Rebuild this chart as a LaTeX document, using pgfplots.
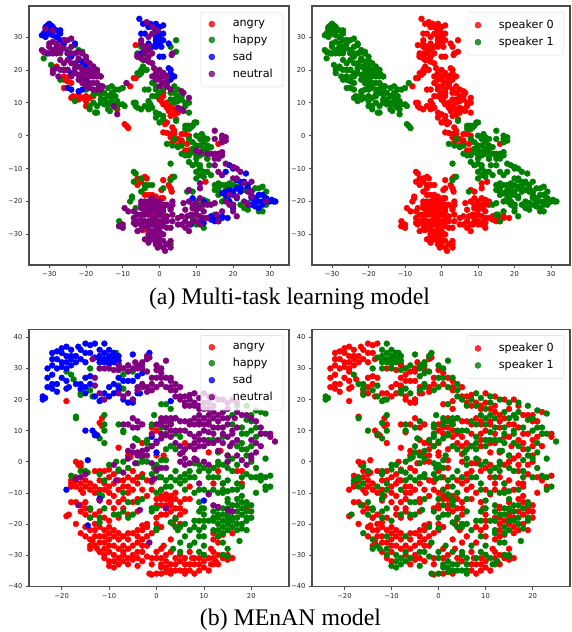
\documentclass[border=0pt]{standalone}
\usepackage{pgfplots}
\usepackage{pgfplotstable}
\usepackage{fontspec}
\pgfplotsset{compat=1.18}
\setmainfont{DejaVu Sans}
\newfontfamily\capfont{Liberation Serif}
\definecolor{darkgreen}{RGB}{0,128,0}
\definecolor{darkpurple}{RGB}{128,0,128}

% (a) multi-task model, one table for each emotion and speaker
\pgfplotstableread{
x y
-6.5 17.5
-7 17.5
-8 15
-6.5 27.5
1 13
0.5 10.5
1 9.5
2 8.5
2.5 7.5
0 11
0 12
4 6.5
4.5 5
2 4
1.5 3.5
3.5 2.5
4 1.5
1 1
2 0.8
3 0.5
4 0.5
3 -0.5
4 -1
5 -1
6 0.5
7 0.5
8 0
3.5 -2
4 -1.5
5 -3
6 -2
7 -4.5
8 -4.5
7.5 -2.5
6 -1.5
16 -2.5
13 -7
12.5 -14
1 -13.5
3.5 -12.5
3 -13
2.5 -15
3 -16
3.3 -17
0.5 -16.5
0.5 -19
-6 -13
-5 -14
-4 -12.5
-3.5 -13
-6 -15
-4 -18
-3 -18
-2 -18
-1 -18.5
1 -19
-2 -24
-4.5 -28.7
1 12
2 10
3 9
4 8
3 6
5 7
}\aAZ
\pgfplotstableread{
x y
-28 21
-26 18
-25 16.5
-26 17
-24 16
-24.5 18
-23.5 12
-24 11.5
-23 11
-22 12.5
-22 11
-21 11.5
-20 10.5
-20 12
-19.5 9
-20 9
-19 11.5
-18 12
-26 14.5
-9.5 3.5
-9 3
-8.5 2.3
-11.5 8
-31.5 25.5
-28 27
}\aAO
\pgfplotstableread{
x y
-5 20
-4.5 21
-5 19
-4 20
-3.5 20
-6 19
-5.5 18.5
4.5 29
4.5 25.5
-4 25
-5 27
-5 24.5
-6 25
-6 24
-4.5 23
3 27
1 14
-1 14
-3 14
-4 14
-2 12
-1 12
-3 10.5
-2.5 9.5
-4 9
-6.5 10
-6.5 9
-6 8.5
-5 8
-3 8
-2 8.5
-1 7
0 6.5
1 6
-1 5.5
0 4
1 5
4 11
3 11
4 10
5 12
4 13
3 13
5 14
2 15
1 16
2 17
3 18
-7 10
-7 -11
-6.5 -11.5
-7 -14
-5 -13
-4 -15
-4 -16
-3 -15
-2 -15
-5 -17
-7.5 -19
-8 -20
-7.5 -18.5
-6.5 -22
-11 -26
-11 -27.5
1 -16
9 -17
10 -20
11 -21
10 -22
13 -20
12 -19.5
9 -25
10 -27
12 -28
9 -22
3 -33
-2 16
-1 15
0 13
4 15
6 11
7 10
5 10.5
7 9
8 7
8 10
6 12
}\aHZ
\pgfplotstableread{
x y
-31.5 23.5
-29.5 21.5
-27 25
-27 17
-28 30
-25 26
-23 27.5
-22 26
-21 25.5
-20 22
-21 21
-17 19
-16 18
-16.5 15
-15 13
-14 14.5
-13 15
-12 14
-11 14
-10 14.5
-17 13
-18 12.5
-16 11
-16 10
-15 9.5
-14 10
-13 10.5
-13 11.5
-14 12
-12 12
-11.5 10.5
-11 9.5
-14 8
-10 9.5
-9.5 9
-17.5 7
-17 7
-13.5 7.5
-12 8.5
-19 9
-23 10.5
-18 10
-19 8
-15 11
-12 10
-13 13
-16 12.5
-20 14
-17 9
-14 9.5
7.5 3
7 3
8 2
8.5 2.5
9 3
7 2
8 3
9.5 4
10 4
4.5 4.5
10 0
11.5 0.5
12 -0.5
13 -1
12 -2
11 -3
12 -4
13 -4
14 -3.5
10 -3
9 -2
8 -1
2 -2.5
3.5 -3
5 -3.5
6 -5.5
7 -6
9 -5
10 -6
11 -6
12 -5.5
8 -8
10 -8.5
9 -9
11 -9
10 -11
11 -10
12 -11
13 -11
11 -12
12 -12.5
14 -12
10 -13
13.5 -9
15 -15
16 -14.5
17 -15
18 -15
16 -16
18 -16.5
15 -16.5
19 -14.5
20 -15
22 -15
26 -16
27 -16
28 -15.5
29 -17
28 -23
23 -22
24 -22.5
20 -21
16 -18
18 -19
3 -8.5
3 -13.5
4 -12.5
7.5 -17
15 -24
4 -1
6 -3
9 -4
11 -1
10 -7
13 -7
13 -3
8 -6
16 -17
19 -16
21 -15.5
23 -16.5
25 -17
17 -20
22 -21
24 -20.5
27 -23
29 -21
}\aHO
\pgfplotstableread{
x y
-5.5 35.5
-4.5 34
-3.5 34
-2.5 34
-1.5 33
-1 34
0 33
1 33.5
-3 33
-4 31
-5 31
-1 32
0 31
1 31
-1 30
0 30
-1 29
0 29
1 29
-1 28
0 28
0.5 27
2.5 28
-2 27
-1 27
-3 28
-4 27
-5 25
0 24
1 24
1 19
2.5 20.5
3 20
3 19
2 18
4 18
3 17
14 -24.5
14 -25.5
15 -25
15 -26
16 -25
16 -26
17 -25
17 -24.5
18.5 -25
8.5 -27
11.5 -26
12 -26.5
9 -19
12 -20
}\aSZ
\pgfplotstableread{
x y
-30 34
-30.5 33.5
-29.5 33.5
-31 33
-29 33
-31 32
-30 32
-30 31
-31.5 31
-32 30.5
-31 30
-29 30.5
-28 32
-27 32
-27 31
-28 30
-27 29
-26 29
-26 28
-23 28
-30.5 25
-25 25
-24 24
-22 23
-21 22.5
-20 21
-26 20
-25 20
-24 19
-23 19
-25 14.5
-24 14
-22 13.5
-21 14
-21 17
-20 17
19 -9
18 -11
20 -10
23.5 -11.5
21 -13.5
22 -14
23 -14
24 -15
24 -16
22 -16
21 -16
20 -17
19 -16.5
18 -17
17 -17.5
18 -18
18.5 -19
19 -20
20 -18
21 -19
22 -17
25 -18
25 -19
26 -19
27 -18
28 -18
29 -19
26 -20
27 -20
28 -20
29 -20
30 -20
31 -20
31.5 -20
30.5 -19.5
25 -21
26 -21.5
27 -22
28 -21
20 -22
}\aSO
\pgfplotstableread{
x y
-3.5 34.5
-2 33
-0.5 32
-2 31
-3 30
-5 29
-5 28
-4 27
-3 27
-4 26
-4 25
-3 24
-3 26
-2 25
-6 24.5
-6 24
-5 23.5
-4 23
-3 22.5
-2 22
3.5 25
3.3 24.5
-1.5 20.5
-1 19
0 20
1 19
-2 18
-1 18
0 18
1 18
2 18
-1 17
0 17
1 16
2 16
2 15
3 14
0 15
6 13.5
6.5 13
8 11.5
5 8.5
5.5 8
6 8
6.5 7.5
-4 -20
-3 -20
-2 -20
-1 -20
0 -20
-5 -21
-4 -21
-3 -21
-2 -21
-1 -21
0 -21
1 -21
-5 -22
-4 -22
-3 -22
-2 -22
-1 -22
0 -22
1 -22
-4 -23
-3 -23
-2 -23
-1 -23
0 -23
1 -23
-5 -24
-4 -24
-3 -24
-1 -24.5
0 -24
1 -24.5
2 -24.5
-6 -24
-7 -25
-6 -26
-5 -25.5
-4 -26
-3 -26
-2 -25.5
-1 -26
0 -26
1 -26
-7 -26.5
-6.5 -27
-5 -27
-4 -27.5
-3 -27.5
-2 -27
-1 -27.5
0 -27.5
1 -27.5
-6 -29
-5 -28.5
-3 -29
-2 -29
-1 -29
0 -29
-3 -30
-2 -30
-1 -30.5
0 -30.5
1 -30
-4 -31.5
-3 -31
-2 -31.5
-1 -32
0 -32
1 -32
-3 -32.5
-1 -33
0 -33.5
1 -34
2 -33
3 -32
3 -34
1.5 -35
-0.5 -34
-9.5 -22
-8.5 -23
-10 -27
-10 -28
-11 -27.5
3.5 -26
3.5 -21
3.5 -20
3 -22
3 -22.5
3.5 -24
6.5 -20.5
7 -22.5
6 -24.5
7 -26
7.5 -24.5
8 -27
7 -28
8 -29
8.5 -24
9 -22
10 -22.5
11 -22
10 -24
11 -24.5
12 -23
13 -21
9 -26
11 -27
12 -25
8 -16.5
11 -14.5
11 -16
-5 -20
2 -21
-7 -23
2 -26
2 -28
-2 -19
3 -28
5 -27
5 -25
8 -20
9 -21
10 -20.5
12 -21
11 -19
6 -27
9 -24
13 -25
10 -26
}\aNZ
\pgfplotstableread{
x y
-31 32.5
-29 32
-30 28
-30 27
-29 26
-28 28
-27 27
-27 25.5
-26 29
-25 29
-24 29.5
-24 27
-29 25
-28 25
-32 26
-31.5 25.5
-30 25
-25 25
-24 25
-23 25
-22 25.5
-21 25
-20 24
-20 23
-19 22
-18 21
-26 22
-24 22
-23 22
-22 21
-21 20
-20 20
-19 20
-18 20
-17 19
-19 19
-20 19
-21 18
-20 18
-19 18
-18 18
-17 18
-16 18
-23 19
-24 18
-25 20
-26 20
-27 20
-28 20.5
-29 20
-29 19
-27.5 18
-22 17
-21 16
-20 16
-19 16
-18 16
-17 16
-20 15
-19 14.5
-18 14
-16 15
-15.5 15
-16 14
-17 14
-12.5 9
-11.5 6.5
-9 16
-27 23
-25 23
-22 23.5
-23 20.5
-26 26.5
-28 26.5
-29 28.5
-18 19
-17 20
-21 19
-22 18.5
15 1.5
17 0
18 -0.5
17 -1
18 -1.5
17 -2
15 -1
10 -4.5
11 -5
13 -5.5
14 -5.5
15 -5.5
16 -5.5
17 -5
15 -6
16 -6
17 -6
15 -7
16 -7
15 -9
18 -8.5
20 -9.5
21 -10
22 -11
16 -11
17 -12
20 -13
21 -13
23 -14.5
25 -14
24 -17
25 -17
19 -18
21 -18.5
18 -20
19 -21
20 -21
23 -20
24 -21
25 -18.5
29 -20
14 -21
15 -20.5
17 -23
20 -23
21 -24.5
15.5 -24
16 -26
}\aNO

% (b) MEnAN model
\pgfplotstableread{
x y
-16 23
-19 19.5
-11.5 14
-11.5 11.5
-3 6
6 6
11 3
3 12
0 10
-8 4.5
-6 2
0 2
-17 0
-16 -0.5
-16.5 -1
-17.5 -5
-18 -7
-18 -8
-17 -6
-15 -6
-15 -8
-14 -7
-13 -3
-11 -3
-9 -4
-10 -5
-12 -6
-10 -8
-12 -9
-9 -7
-8 -6
-6 -8
-5 -9
-4 -7
-3 -9
-5 -3
-2 -6
-1 -6.5
-17 -13
-18 -13
-16 -14
-15 -15
-14 -18
-19 -17.5
-13 -17
-10 -13
-9 -11
-8 -13
-7 -15
-11 -18
-8 -18
-9 -15
-4 -12
-4 -16
-17 -20
-15 -21
-14 -22
-15 -24
-13 -24
-12 -24
-12 -26
-14 -27
-12 -29
-11 -26
-10 -25
-10 -23
-9 -22
-9 -24
-8 -23
-8 -25
-10 -27
-9 -27
-8 -28
-10 -29
-11 -31
-10 -32
-7 -30
-6 -33
-5 -31.5
-4 -31
-5 -30
-6 -28
-5 -27
-4 -26
-3 -25
-4 -24
-5 -23
-4 -22
-3 -20.5
-3 -22
-2 -20
-2 -24
-2 -27
-3 -32
-1 -31
1 -31
1 -28
3 -25
0 -20
1 -21
5 -32
7 -29
7.5 -31
8 -33
9 -33
9 -35
10 -34
10 -32
12 -29
12 -31
13 -33
14 -31
15 -31.5
16 -31
7 -35
-1 -36.3
1 -36
3 -36
8 -36
1 -11
3 -11
2 -12
4 -12
5 -13
2 -15
4 -15
3 -16
5 -17
3.5 -20
7 -12
7 -8
12 -7
14 -7
17 -3
18 -7
19 -15
13 -24
12 -25
11.5 -28
14 -23.5
16 -23
-17.5 -7
-16 -9
-15.5 -10
-14 -9
-13 -10
-10 -10
-7 -8
-6 -10
-16 -16
-13 -20
-12 -21
-11 -22
-10 -21
-13 -22
-13.5 -25.5
-7 -27
-6 -25
-6 -23
-3 -27
-1 -23
-1 -33
2 -30
4 -31
7 -33
9 -31
11 -35
13 -30
2 -14
1 -12
5 -15
0 -14
-1 -9
-2 -11
1 -9
-7 -12
}\bAZ
\pgfplotstableread{
x y
-12 12.5
7 5
13.5 3.5
-1 11
-5.5 1.5
1.5 2
-16 -1.5
-18 -6
-17 -8
-16 -7
-12 -3
-10 -2.5
-11 -7
-11 -9
-7 -6
-4 -5
-6 -5
-15 -13
-14 -15.5
-15 -17
-18.5 -17
-12 -16
-10 -19
-6 -17
-5 -13
-16 -23
-14 -25
-13 -27
-14 -28
-11 -28
-7 -24
-9 -30
-11 -30
-9 -32
-8 -31
-8 -33
-9 -34
-10 -33.5
-7 -32
-4 -33.5
-4 -29
-3 -29
-2 -30.5
0 -31
1.5 -27
2 -32
1 -33
1 -34
2 -34
3 -33
3 -35
4 -33
6 -31
8 -31
11 -31
12.5 -32
14 -30
11.5 -33
6 -35
5 -35
-1.5 -36
0 -36
2 -35.5
4 -35
6 -36
5 -30
2 -10.5
4 -10
3 -13
1 -14
3 -14
1 -17
0 -18
4 -18
5 -20
13 -3
18 -3
12 -23
13 -26
-13 -8
-8 -9
-5 -6
-3 -4
-12 -12
-11 -24
-12.5 -28
-7 -29
-6 -31
-2 -21
0 -29
3 -29
6 -33
10 -30
12 -33
15 -30
3 -12
2 -17
6 -16
6 -12
0 -12
}\bAO
\pgfplotstableread{
x y
-19 29
-17.5 26.5
-16 22
-13.5 21
-8 31.5
-7 28
-8 24.5
-5 29
-17 14.5
-11 12
-8 12
-7 9.5
-4 7
-11 6
-2 6.5
1 18.5
3 17
1 11
-2 6
-18 -4.5
-16 -3
-14.5 -3.5
-11 -6
-11.5 -11
-14 -18
-12 -19.5
-9 -17
-7 -16
-6 -18
-4 -13
-7 -10
-8 -2.5
-8.5 0
-6 -2
-3 0
-2 0
0 -3
2 0.5
1 -5
2 -8
0 -10
-1 -15
0 -15
0 -22
4 -18.5
4.5 -22
3.5 -28
5 -26
8 -26
10 -30
5 -7
6 -4
7 -3
9 -3
10 -9
13 -5
14 -9
15 -6
16 -9
18 -8
14 -1
13 3
15 0
16 1
18 6
14 8
8 -10
15 -13
15 -17
13 -15
12 -18
13 -20
13 -22
14 -19
16 -18
18 -17
20 -16
18 -13
20 -14
18 -20
16 -21
17 -22
19 -22
15 -28
14 -30
10 -21
10 -17
9 -22
10 -24
9.5 -15
22 16
20 15
17 18
16 12
20 13
19 9
20 5
18 4
20 0
19 -4
21 -5
22 -6
24 -4.5
23 -8
21 -10
13 -18
15 -18
17 -16
19 -16
17 -12
18 -11
15 -20
13 -24
20 -18
10 -19
9 -13
8 -21
6 -24
12 -9
10 -2
8 -0.5
11 -5
17 -1
17 -7
4 -6
6 -6
6 -9
2 4
4 9
5 8
21 8
18 9
}\bHZ
\pgfplotstableread{
x y
-14 30
-18 28
-14 23
-16 21.5
-9 35
-8.5 35
-9 34
-7 30
-7 23.5
-3 31
-17 14
-11 15
-11 10
-7 10
-4.5 7.5
-12 7.5
-2 7
-0.5 15
2 18.5
-1 12
-1 5
0 -1
-17 -5
-15 -3
-12 -4
-12 -10.5
-14 -15
-12 -18
-11 -15
-8 -17
-6 -13
-5 -17
-3 -12
-8 -3
-10 -1
-7 0
-4 -0.5
-3 1
-0.5 -2
1 0.5
-1 -4
2 -6
1 -9
0.5 -5
-1 -16
0 -21.5
3 -19.5
4 -21
5 -21
5 -29
7 -27
9 -29
10 -27
5 -5
4 -3
8 -5
9 -9
12 -5
14 -7
14 -10
15 -9.5
17 -9
15 -2
13 0
13 -1
15 2
17 5
12 7
11 7
13 -10
15 -15
14 -17
12 -16
12 -19
14 -21
12 -22
15 -19
17 -18
19 -18
19 -14
19 -13
17 -14
17 -20
15 -22
18 -21.5
17.5 -25.5
15 -30.5
14 -26
9 -19
9 -16
9 -24
6 -20
21 16.5
23 15.5
19 18
16 15
19 13.5
21 11
20 10
19 4
19 2
21 -2
20 -5
22 -4.5
23 -5
24 -8
23 -9
13 -17
14 -15
16 -16
18 -15
16 -14
15 -12
16 -19
14 -23
19 -19
11 -19
10 -15
8 -19
7 -22
11 -10
11 -3
9 -1
12 -2
16 -3
18 -5
3 -8
3 -5
7 -5
-3 -5
4 4
2 9
3 5
22 9
18 11
23 1
}\bHO
\pgfplotstableread{
x y
-15 38
-14 37.5
-13 38
-20 36.5
-19 37
-18 36
-16.5 37
-16 36
-15 35
-14 35
-22 35
-21 35.5
-20 35
-19 34
-18 34
-17 34
-23 30
-22 31
-21 30
-20 30.5
-19 30
-18 31
-17 32
-16 33
-15 32
-22 33
-21 33
-20 32
-19 32
-18 33
-23 27
-22 28
-20 27
-19 26
-21 25
-22 25
-23 24
-22 23.5
-21 22.5
-19 23.5
-18.5 24
-15 27
-14 25
-14 27.5
-15 24
-10 24
-9 25
-8 24
-8 27
-7 26
-6 26
-5 26
-9 22
-15 22
-11 22
-10 21
-7 20
-6 19
-5 19
-4 22
-3.5 22
-5 20
-13.5 10
-13 8.5
-12.5 8.5
0 3
-14.5 0.5
-19 -9
-12 -12
-14.5 -20.5
3 19.5
4 14
}\bSZ
\pgfplotstableread{
x y
-11 38
-12 36
-11 35
-10 36
-10 34
-9 35
-12 34
-11 33
-10 33
-9 33
-8 34
-12 33
-13 33.5
-12 32
-11 32
-10 31.5
-9 32
-8 32.5
-5 34.5
-1.5 35
-3.5 31
-3 28.5
-4 27.5
-24 21
-24 20
-23.5 20.5
-17 25
-16 23.5
-16 25
-13 21
-11.5 20
-12 19.5
-8 23
-15 10
-13 9
-1 8
0 6.5
10 -12.5
}\bSO
\pgfplotstableread{
x y
-13.5 33
-11 30
-9 29.5
-8 31
-6 29
-5 30
-4.5 32
-3 30
-2 33
-1.5 33.5
0 29.5
1 28.5
-13 27
-12 22
-7 21
-5 20
-2 24
-4 24
-2 22.5
-1 25
1 25
2 27
3 26
3 24
3 23
5 21
6 19
8 19
7 18
9 17
11 17
10 22
12 21
14 20
16 20
10 19
12 18
7 21.5
-5 14
-6 12
-4 11
-3 12
2 14
1 13
3 13
2 11
3 10
1 9
3 8
4 6
0 6
-2 4
-4 3
-6 3.5
-3 2
-4.5 -0.5
0 -2.5
5 2.5
5 0
7 -0.5
8.5 0.5
11 -1
8 14
7 12
9 13
11 13
13 15
9 12
11 12
13 11
15 12
17 11
10 10
9 9
9 7
11 6
7 5
9 5
12 6
17 7
15.5 5
17 2
15 0
20 7
22 5
20 2
19 -1
22 9
24 9
24 8
21 13
19 15
18 15
2 -2
-16 -5
-15 -4
-12 -12.5
2 -15
11 -10.5
13 -14.5
16 -16
-8.5 -6
-1 -6
-1 27
5 24
6 21
9 18
12 16
15 17
14 14
13 13
12 9
15 8
7 9
6 13
5 13
0 12
5 5
-2 2
}\bNZ
\pgfplotstableread{
x y
-12 30
-10 30
-8 29.5
-7 30
-6 31
-4 30
-4 31
-3 32
-2 29
-2 34
0 31
1 30
2 32.5
-13 24.5
-11 20
-8 22
-6 22
-3 24
-3 25
-4 23
-1 23
0 24
1 27
3 27
4 25
2 24
4 23
5 20
7 20
6 18
8 18
10 17
9 20.5
11 21
13 20
15 19
17 19
11 19
8 22
-4 13
-5 11
-7 12
1 14
3 14
2 13
1 12
3 12
4 10
2 8.5
1 7.5
5 10
-1 5
-3 3.5
-5 3
-4 2
-6 1
-1 -0.5
5.5 3
6 1
6 -1
8 1
10 0
9 15
7 13
8 12
10 14
12 14
14 16
10 12
12 11
14 11
16 10
16 9
11 9.5
8 8
10 7
8 6
8 4
10 5
13 7
16 6
14 6
15 2
13 3.5
21 6
21 3
18 0.5
20 1
23 9
25 6.5
22 11
20 14
17 16
16.5 14
-9 -1
-17 -5.5
-16.5 -14
-3.5 -15.5
9 -7
12 -14
15 -15.5
-1.5 -26
-7 -3.5
1 -2
-0.5 -5.5
0 27
4 21
11 15
15 14
14 9
6 10
4 14
-1 9
6 4
-5 5
}\bNO

\pgfplotsset{
  ang/.style={only marks,mark=*,mark size=2.95pt,color=red},
  hap/.style={only marks,mark=*,mark size=2.95pt,color=darkgreen},
  sad/.style={only marks,mark=*,mark size=2.95pt,color=blue},
  neu/.style={only marks,mark=*,mark size=2.95pt,color=darkpurple},
  panel/.style={
    scale only axis,
    axis line style={black!70,line width=1.1pt},
    tick style={black!70,line width=0.6pt},
    major tick length=3pt,
    tick align=outside,
    xtick pos=bottom,
    ytick pos=left,
    tick label style={font=\fontsize{6.8}{8}\selectfont,text=black!85},
    legend cell align=left,
    legend style={
      at={(0.977,0.977)},anchor=north east,
      font=\fontsize{11.2}{13}\selectfont,
      draw=black!15,rounded corners=1.5pt,
      fill opacity=0.8,text opacity=1,draw opacity=1,
      inner xsep=8pt,inner ysep=6pt,row sep=3pt,
      /tikz/every odd column/.append style={column sep=16pt},
    },
  },
  panelA/.style={
    panel,width=260pt,height=259pt,
    xmin=-35.5,xmax=35.2,ymin=-39.3,ymax=39.4,
    xtick={-30,-20,-10,0,10,20,30},
    xticklabels={−30,−20,−10,0,10,20,30},
    ytick={-30,-20,-10,0,10,20,30},
    yticklabels={−30,−20,−10,0,10,20,30},
  },
  panelB/.style={
    panel,width=260pt,height=257.4pt,
    xmin=-26.9,xmax=27.95,ymin=-40.2,ymax=42.6,
    xtick={-20,-10,0,10,20},
    xticklabels={−20,−10,0,10,20},
    ytick={-40,-30,-20,-10,0,10,20,30,40},
    yticklabels={−40,−30,−20,−10,0,10,20,30,40},
  },
}

\begin{document}
\begin{tikzpicture}[x=1pt,y=1pt]
\path (0,0) rectangle (571,632);

\begin{axis}[panelA,at={(29pt,367pt)}]
\addplot[ang] table {\aAZ};
\addlegendentry{angry}
\addplot[ang,forget plot] table {\aAO};
\addplot[hap] table {\aHZ};
\addlegendentry{happy}
\addplot[hap,forget plot] table {\aHO};
\addplot[sad] table {\aSZ};
\addlegendentry{sad}
\addplot[sad,forget plot] table {\aSO};
\addplot[neu] table {\aNZ};
\addlegendentry{neutral}
\addplot[neu,forget plot] table {\aNO};
\end{axis}

\begin{axis}[panelA,at={(312pt,367pt)},width=258pt]
\addplot[ang] table {\aAZ};
\addlegendentry{speaker 0}
\addplot[ang,forget plot] table {\aHZ};
\addplot[ang,forget plot] table {\aSZ};
\addplot[ang,forget plot] table {\aNZ};
\addplot[hap] table {\aAO};
\addlegendentry{speaker 1}
\addplot[hap,forget plot] table {\aHO};
\addplot[hap,forget plot] table {\aSO};
\addplot[hap,forget plot] table {\aNO};
\end{axis}

\begin{axis}[panelB,at={(29pt,45.3pt)}]
\addplot[ang] table {\bAZ};
\addlegendentry{angry}
\addplot[ang,forget plot] table {\bAO};
\addplot[hap] table {\bHZ};
\addlegendentry{happy}
\addplot[hap,forget plot] table {\bHO};
\addplot[sad] table {\bSZ};
\addlegendentry{sad}
\addplot[sad,forget plot] table {\bSO};
\addplot[neu] table {\bNZ};
\addlegendentry{neutral}
\addplot[neu,forget plot] table {\bNO};
\end{axis}

\begin{axis}[panelB,at={(312pt,45.3pt)},width=258pt]
\addplot[ang] table {\bAZ};
\addlegendentry{speaker 0}
\addplot[ang,forget plot] table {\bHZ};
\addplot[ang,forget plot] table {\bSZ};
\addplot[ang,forget plot] table {\bNZ};
\addplot[hap] table {\bAO};
\addlegendentry{speaker 1}
\addplot[hap,forget plot] table {\bHO};
\addplot[hap,forget plot] table {\bSO};
\addplot[hap,forget plot] table {\bNO};
\end{axis}

\node[inner sep=0pt,font=\capfont\fontsize{23.8}{26}\selectfont,anchor=base] at (289.5,327.5) {(a) Multi-task learning model};
\node[inner sep=0pt,font=\capfont\fontsize{23.8}{26}\selectfont,anchor=base] at (290.5,6) {(b) MEnAN model};
\end{tikzpicture}
\end{document}
